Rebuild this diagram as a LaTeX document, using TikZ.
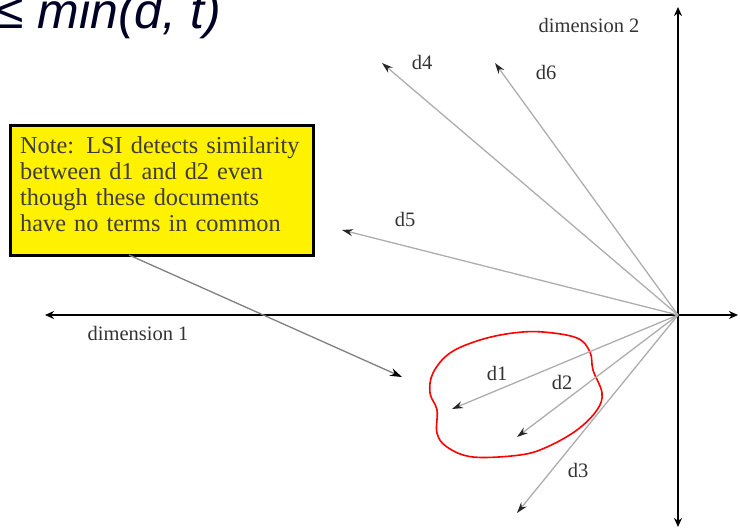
\documentclass[tikz,border=0pt]{standalone}
\usepackage{fontspec}
\setmainfont{Liberation Serif}
\newfontfamily\titlefont{Liberation Sans}
\usetikzlibrary{arrows.meta}
\tikzset{
  axis/.style={line width=2.6pt, black, {Stealth[length=9pt,width=8pt]}-{Stealth[length=9pt,width=8pt]}},
  vec/.style={line width=1.3pt, black!32, -{Stealth[length=11pt,width=7pt,color=black!85]}},
  pointer/.style={line width=1.3pt, black!50, -{Stealth[length=12pt,width=8pt,color=black]}},
  lbl/.style={font=\fontsize{20.5}{22}\selectfont, text=black!80, inner sep=0pt},
  notebox/.style={draw=black, line width=3pt, fill=yellow, minimum width=303pt, minimum height=130pt, inner sep=0pt},
  notetext/.style={font=\fontsize{24.3}{26}\selectfont, text=black!75!yellow!55!black, align=left, text width=300pt, inner sep=0pt},
  cluster/.style={red, line width=1.6pt}
}
\begin{document}
\begin{tikzpicture}[x=1pt,y=-1pt]
\useasboundingbox (0,0) rectangle (740,528);
% partially visible title
\node[anchor=base west, inner sep=0pt, text=black!85!blue, font=\titlefont\itshape\fontsize{50}{52}\selectfont] (title) at (-4,28) {≤ min(d, t)};
% axes
\coordinate (O) at (678,315);
\coordinate (xl) at (45,315);
\coordinate (xr) at (738,315);
\coordinate (yt) at (678,7);
\coordinate (yb) at (678,527);
\draw[axis] (xl) -- (xr);
\draw[axis] (yb) -- (yt);
\node[lbl] (dim1) at (138,333) {dimension 1};
\node[lbl] (dim2) at (589,25) {dimension 2};
% cluster
\draw[cluster] plot[smooth cycle, tension=0.6] coordinates {
 (543,332) (577,338) (590,352) (593,370) (602,393) (597,410) (577,430)
 (547,447) (520,455) (473,457) (447,447) (437,433) (437,410) (430,393)
 (433,373) (450,353) (480,340) (513,333)};
% document vectors
\coordinate (d4t) at (382,63);
\coordinate (d6t) at (495,63);
\coordinate (d5t) at (342,230);
\coordinate (d1t) at (452,409);
\coordinate (d2t) at (517,437);
\coordinate (d3t) at (517,513);
\foreach \t in {d4t,d6t,d5t,d1t,d2t,d3t} \draw[vec] (O) -- (\t);
\node[lbl] (d4) at (422,62) {d4};
\node[lbl] (d6) at (546,72) {d6};
\node[lbl] (d5) at (405,219) {d5};
\node[lbl] (d1) at (497,373) {d1};
\node[lbl] (d2) at (562,382) {d2};
\node[lbl] (d3) at (578,470) {d3};
% note
\node[notebox] (note) at (162,190.5) {};
\node[notetext, anchor=north west] (notetxt) at (20,136) {Note: LSI detects similarity\\between d1 and d2 even\\though these documents\\have no terms in common};
\coordinate (pt) at (402,377);
\coordinate (ps) at (129,255);
\draw[pointer] (ps) -- (pt);
\end{tikzpicture}
\end{document}
